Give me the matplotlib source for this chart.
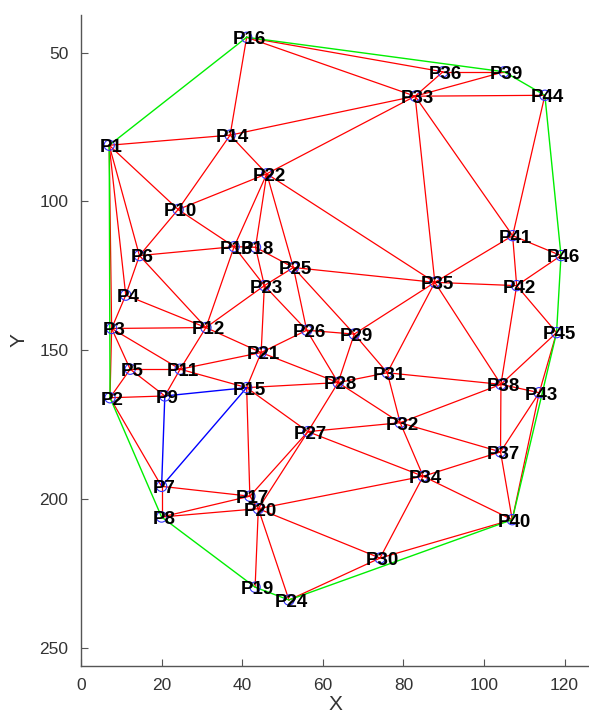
import matplotlib
matplotlib.use("Agg")
import matplotlib.pyplot as plt

# Point coordinates (P1..P46)
px = [7.0, 7.2, 7.6, 11.1, 12.2, 14.5, 20.0, 20.0, 20.8, 24.1,
      24.6, 31.0, 38.0, 37.0, 41.1, 41.1, 41.9, 43.3, 43.2, 44.0,
      44.7, 46.1, 45.5, 51.6, 52.7, 56.0, 56.3, 63.8, 67.8, 74.2,
      76.0, 79.2, 82.9, 84.9, 87.8, 89.8, 104.1, 104.2, 105.0, 107.0,
      107.1, 108.1, 113.7, 115.1, 118.0, 119.1]
py = [81.1, 166.0, 142.7, 131.5, 156.4, 118.2, 195.8, 206.1, 165.4, 102.7,
      156.4, 142.4, 115.2, 77.7, 162.6, 44.8, 199.1, 115.4, 229.7, 203.3,
      150.8, 90.7, 128.3, 234.0, 122.2, 143.3, 177.4, 160.9, 144.6, 219.9,
      157.6, 174.4, 64.6, 192.4, 127.2, 56.4, 184.2, 161.5, 56.4, 207.0,
      111.5, 128.3, 164.3, 64.3, 144.1, 118.2]
labels = [f"P{i}" for i in range(1, 47)]

# Triangulation edges (1-based point indices)
red_edges = [
    (1, 14), (1, 10), (1, 6), (1, 4), (1, 3), (2, 3), (2, 5), (2, 9), (2, 7),
    (3, 4), (3, 12), (3, 11), (3, 5), (4, 6), (4, 12), (5, 11), (5, 9),
    (6, 10), (6, 13), (6, 12), (7, 8), (7, 17), (8, 17), (8, 20),
    (9, 11), (10, 14), (10, 22), (10, 13), (11, 12), (11, 21), (11, 15),
    (12, 13), (12, 23), (12, 21), (13, 22), (13, 18), (13, 23),
    (14, 16), (14, 33), (14, 22), (15, 21), (15, 28), (15, 27), (15, 17),
    (16, 36), (16, 33), (17, 20), (17, 27), (18, 22), (18, 23), (18, 25),
    (19, 20), (20, 24), (20, 27), (20, 34), (20, 30),
    (21, 23), (21, 26), (21, 28), (22, 33), (22, 35), (22, 25),
    (23, 25), (23, 26), (24, 30), (25, 26), (25, 29), (25, 35),
    (26, 29), (26, 28), (27, 28), (27, 32), (27, 34),
    (28, 29), (28, 31), (28, 32), (29, 31), (29, 35), (30, 34), (30, 40),
    (31, 32), (31, 35), (31, 38), (32, 38), (32, 37), (32, 34),
    (33, 36), (33, 39), (33, 44), (33, 35), (33, 41), (34, 37), (34, 40),
    (35, 41), (35, 42), (35, 38), (36, 39), (37, 38), (37, 43), (37, 40),
    (38, 42), (38, 45), (38, 43), (40, 43), (41, 44), (41, 46), (41, 42),
    (42, 46), (42, 45), (43, 45),
]
hull = [16, 39, 44, 46, 45, 40, 24, 19, 8, 2, 1, 16]
blue_path = [9, 15, 7, 9]

plt.rcParams['font.family'] = ['Liberation Sans', 'DejaVu Sans']
fig = plt.figure(figsize=(5.89, 7.16), dpi=100)
ax = fig.add_axes([81 / 589, 50 / 716, 508 / 589, 651 / 716])

for a, b in red_edges:
    ax.plot([px[a - 1], px[b - 1]], [py[a - 1], py[b - 1]], color='#ff0000', lw=0.9, zorder=2)

ax.plot([px[i - 1] for i in hull], [py[i - 1] for i in hull], color='#00ee00', lw=1.0, zorder=3)
ax.plot([px[i - 1] for i in blue_path], [py[i - 1] for i in blue_path], color='#0000ff', lw=1.0, zorder=4)

ax.scatter(px, py, s=55, facecolors='none', edgecolors='#3333ff', linewidths=0.8, zorder=5)
for x, y, t in zip(px, py, labels):
    ax.text(x + 0.6, y + 0.8, t, fontsize=13.5, fontweight='bold', ha='center', va='center',
            color='black', zorder=6)

ax.set_xlim(0, 126.05)
ax.set_ylim(256.2, 37.3)
ax.set_xticks([0, 20, 40, 60, 80, 100, 120])
ax.set_yticks([50, 100, 150, 200, 250])
for s in ['top', 'right']:
    ax.spines[s].set_visible(False)
for s in ['left', 'bottom']:
    ax.spines[s].set_color('#555555')
    ax.spines[s].set_linewidth(1.0)
ax.tick_params(direction='in', length=5, width=0.8, colors='#555555', labelsize=12.5,
               labelcolor='#333333', pad=9)
ax.set_xlabel('X', fontsize=15, color='#333333', labelpad=1)
ax.set_ylabel('Y', fontsize=15, color='#333333', labelpad=8)

fig.savefig('out.png', dpi=100)
